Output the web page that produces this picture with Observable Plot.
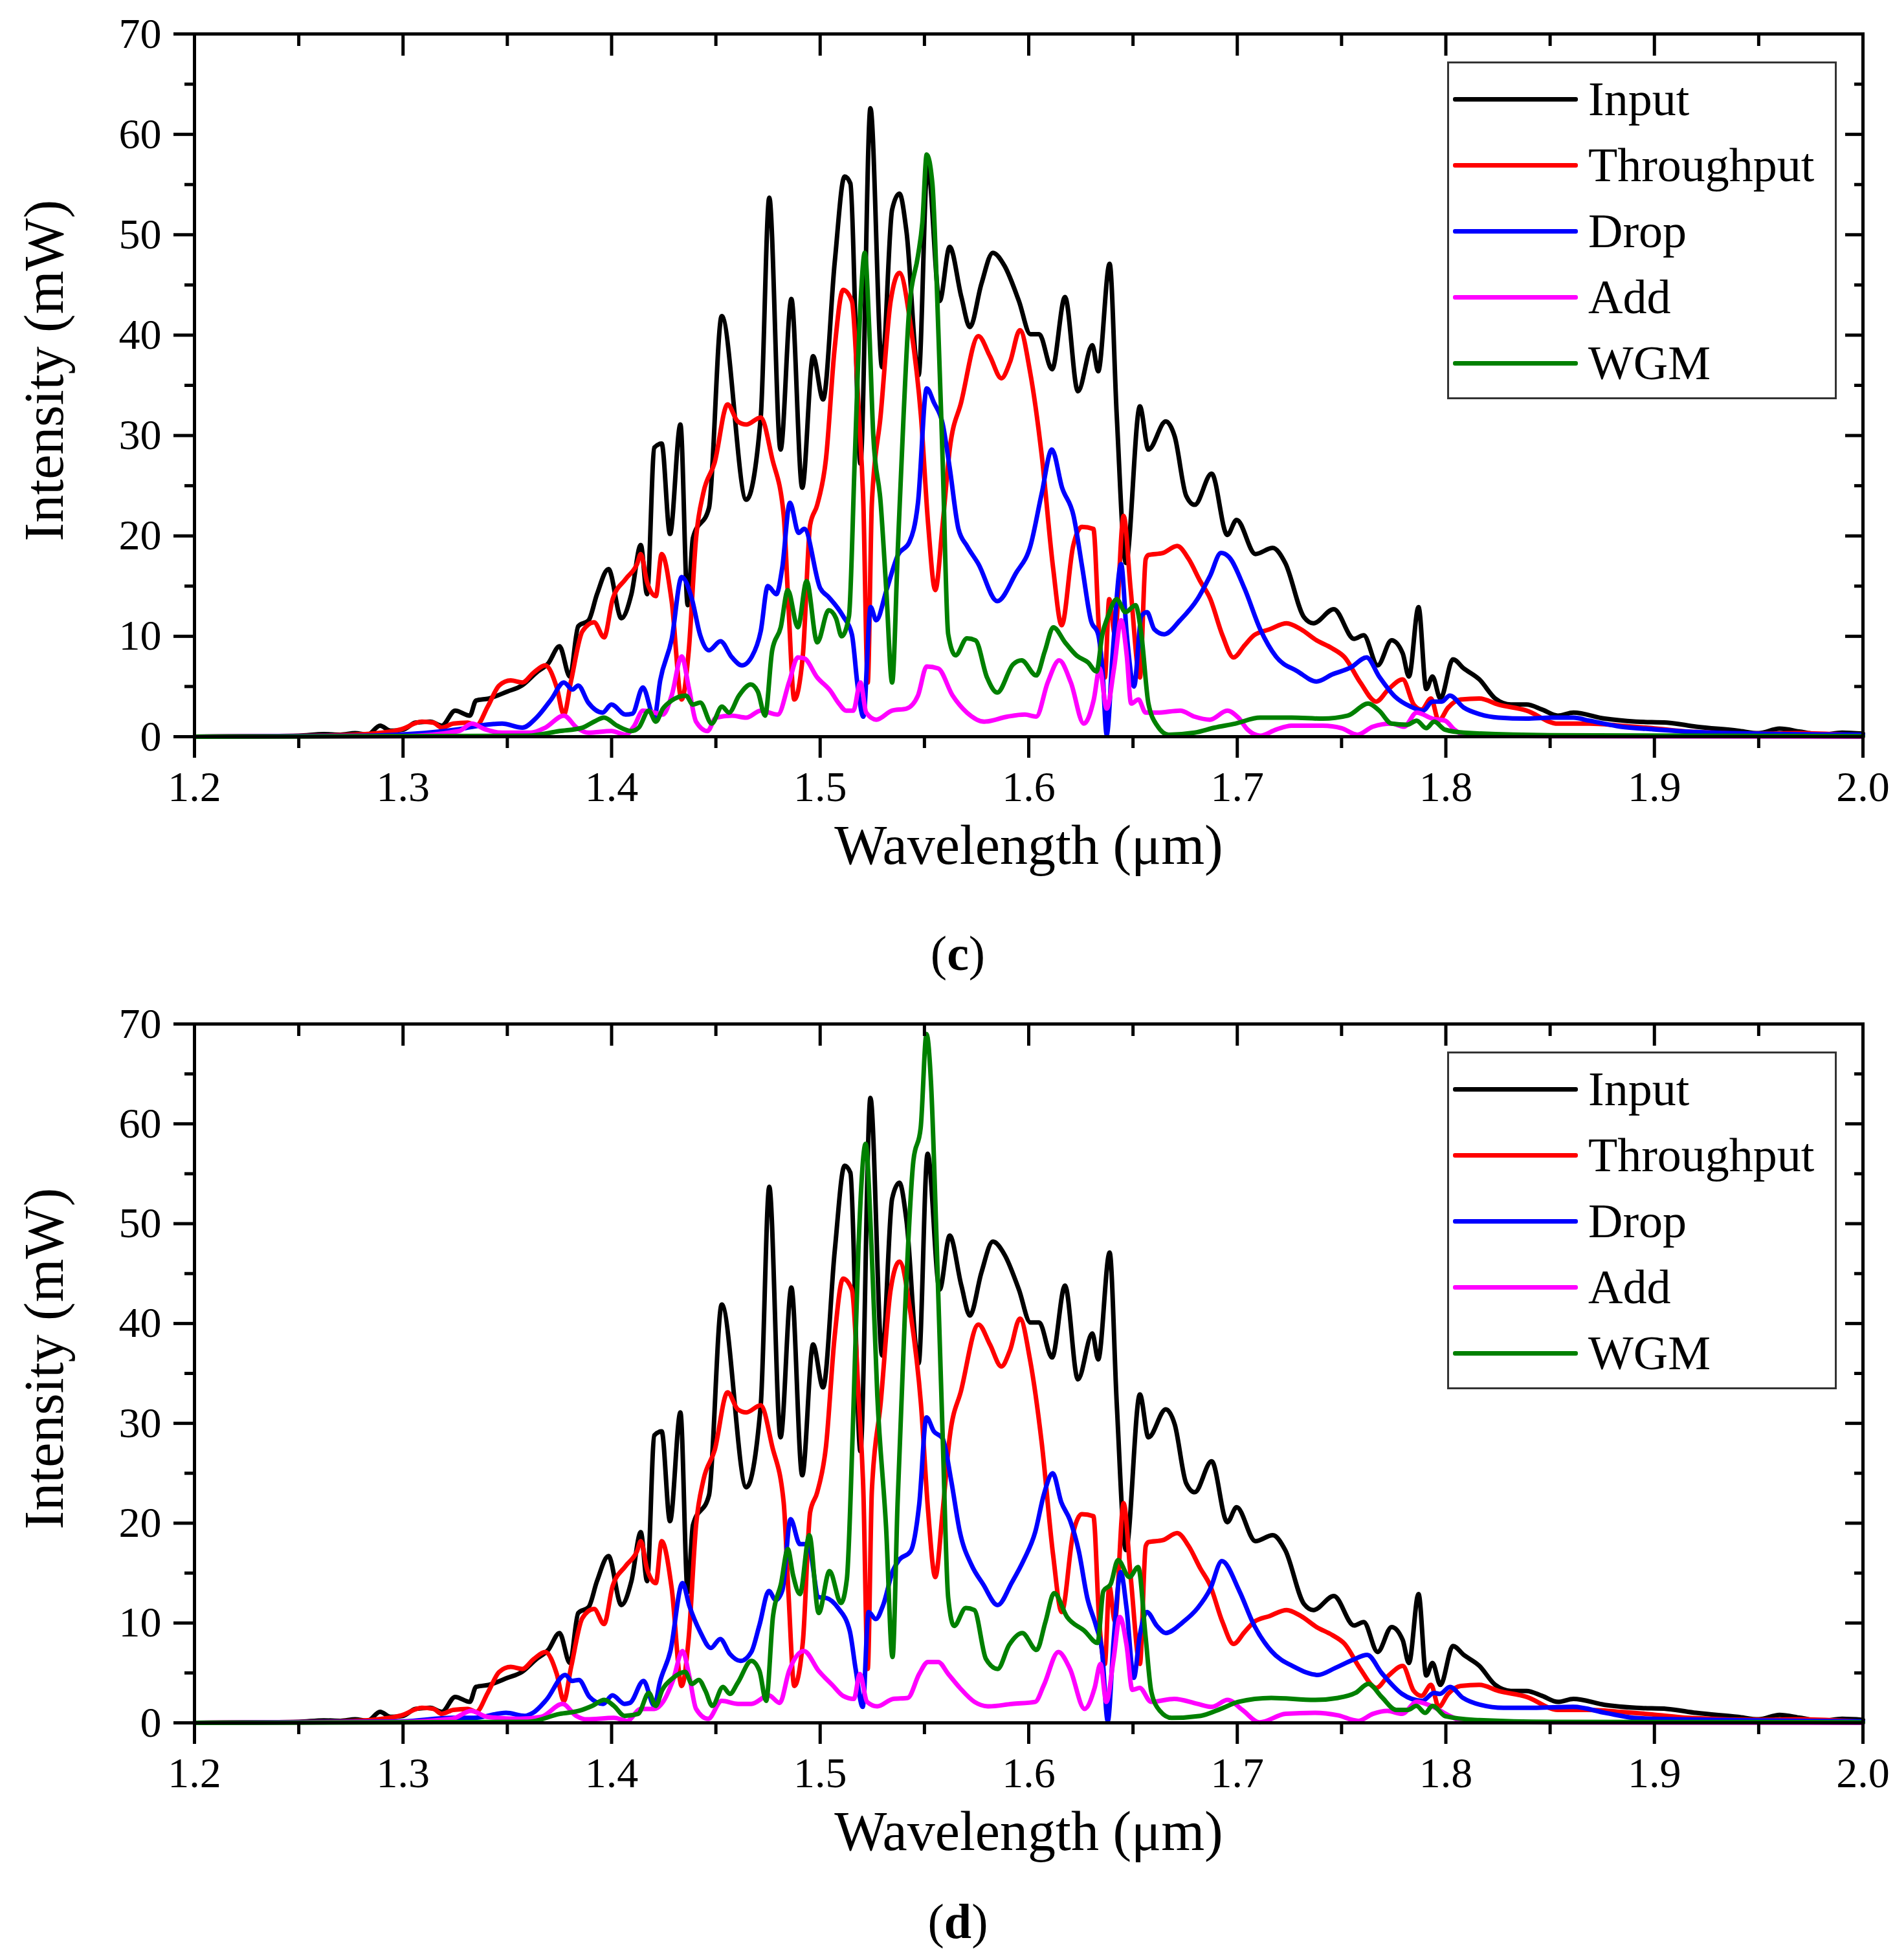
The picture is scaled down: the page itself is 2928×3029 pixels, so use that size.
<!DOCTYPE html>
<html>
<head>
<meta charset="utf-8">
<script src="https://cdn.jsdelivr.net/npm/d3@7"></script>
<script src="https://cdn.jsdelivr.net/npm/@observablehq/plot@0.6"></script>
<style>
  body { margin: 0; background: #fff; }
  #page { position: relative; width: 2928px; height: 3029px; font-family: "Liberation Serif", serif; color: #000; }
  .panel { position: absolute; left: 0; }
  .legend { position: absolute; left: 2236px; width: 602px; height: 522px; box-sizing: border-box;
            border: 3px solid #333; background: #fff; padding-top: 4px; }
  .legend .row { height: 102px; display: flex; align-items: center; }
  .legend .swatch { margin-left: 6px; width: 193px; height: 7px; border-radius: 3px; }
  .legend .name { margin-left: 16px; font-size: 74px; line-height: 1; }
  .caption { position: absolute; left: 0; width: 2960px; text-align: center; font-size: 76px; line-height: 1; }
</style>
</head>
<body>
<div id="page">
  <div class="panel" id="chartC" style="top:0px"></div>
  <div class="legend" id="legendC" style="top:95px"></div>
  <div class="caption" style="top:1435px">(<b>c</b>)</div>
  <div class="panel" id="chartD" style="top:1530px"></div>
  <div class="legend" id="legendD" style="top:1625px"></div>
  <div class="caption" style="top:2931px">(<b>d</b>)</div>
</div>
<script>
// tick values
const xMajor = [1.2, 1.3, 1.4, 1.5, 1.6, 1.7, 1.8, 1.9, 2.0];
const xMinor = [1.25, 1.35, 1.45, 1.55, 1.65, 1.75, 1.85, 1.95];
const yMajor = [0, 10, 20, 30, 40, 50, 60, 70];
const yMinor = [5, 15, 25, 35, 45, 55, 65];

const names = ["Input", "Throughput", "Drop", "Add", "WGM"];
const colors = ["#000000", "#ff0000", "#0000ff", "#ff00ff", "#008000"];

// [wavelength (um), intensity (mW)] -- same in (c) and (d)
const input = [[1.2,0],[1.23,0.05],[1.25,0.1],[1.262,0.25],[1.27,0.2],[1.277,0.35],[1.283,0.2],[1.289,1.1],[1.294,0.6],[1.3,0.7],[1.306,1.4],[1.313,1.5],[1.3186,1.1],[1.325,2.6],[1.332,2.1],[1.335,3.6],[1.341,3.8],[1.35,4.5],[1.357,5.1],[1.364,6.4],[1.3696,7.3],[1.375,9.0],[1.38,6.0],[1.384,11.0],[1.389,11.6],[1.393,14.2],[1.3985,16.7],[1.4047,11.8],[1.4095,14.2],[1.414,19.1],[1.417,14.2],[1.4205,28.8],[1.424,29.2],[1.428,20.2],[1.433,31.1],[1.4365,13.1],[1.439,19.8],[1.4467,22.8],[1.4528,41.9],[1.4646,23.6],[1.4715,31.8],[1.4756,53.7],[1.481,28.6],[1.4862,43.6],[1.4914,24.8],[1.4966,37.9],[1.5014,33.6],[1.507,47.3],[1.5117,55.8],[1.5145,55.1],[1.5193,27.2],[1.5241,62.6],[1.5297,36.8],[1.5345,52.5],[1.538,54.1],[1.5414,50.3],[1.5472,36.0],[1.5515,57.0],[1.5573,43.4],[1.5621,48.8],[1.5677,43.8],[1.5718,40.8],[1.5773,45.1],[1.5828,48.2],[1.5884,46.9],[1.5953,43.4],[1.6008,40.1],[1.605,40.1],[1.6112,36.6],[1.6174,43.8],[1.6236,34.4],[1.6305,39.0],[1.6333,36.4],[1.6388,47.1],[1.6422,32.0],[1.6466,17.3],[1.6533,32.9],[1.6574,28.6],[1.6657,31.4],[1.67,29.9],[1.6755,24.0],[1.6796,23.1],[1.6877,26.2],[1.6952,20.1],[1.6997,21.6],[1.7087,18.2],[1.717,18.8],[1.723,17.3],[1.732,11.9],[1.7365,11.3],[1.7463,12.7],[1.756,9.75],[1.7606,10.1],[1.7673,7.1],[1.774,9.6],[1.7793,8.3],[1.7823,6.0],[1.7869,12.9],[1.7906,4.75],[1.7936,6.0],[1.7974,3.8],[1.8034,7.7],[1.8086,6.8],[1.8161,5.7],[1.8237,3.8],[1.8312,3.2],[1.8387,3.2],[1.8462,2.7],[1.8537,2.1],[1.8612,2.4],[1.8762,1.8],[1.8913,1.5],[1.906,1.4],[1.92,1.0],[1.94,0.6],[1.95,0.35],[1.96,0.8],[1.97,0.5],[1.98,0.2],[1.99,0.4],[2.0,0.3]];

const throughput = [[1.2,0],[1.26,0.1],[1.285,0.3],[1.2993,0.75],[1.309,1.5],[1.3145,1.4],[1.3186,0.9],[1.3241,1.3],[1.331,1.4],[1.3351,1.1],[1.3406,3.0],[1.3461,5.1],[1.3516,5.6],[1.3572,5.4],[1.3627,6.4],[1.3682,7.1],[1.3737,4.9],[1.3771,2.2],[1.3806,5.6],[1.386,10.5],[1.3916,11.4],[1.3964,9.9],[1.4005,13.7],[1.4067,15.7],[1.4122,17.2],[1.414,18.2],[1.417,15.4],[1.4212,14.0],[1.424,18.2],[1.4288,13.5],[1.4336,3.7],[1.437,8.6],[1.4405,19.8],[1.444,24.3],[1.4494,27.3],[1.4556,33.1],[1.4605,31.4],[1.4646,31.1],[1.4715,31.8],[1.477,27.7],[1.4825,22.1],[1.4848,13.0],[1.4876,3.7],[1.4917,8.1],[1.4952,21.1],[1.4986,23.1],[1.5028,27.7],[1.5069,38.6],[1.511,44.5],[1.5152,43.4],[1.5186,32.0],[1.5207,23.3],[1.5228,5.4],[1.5248,23.3],[1.529,32.0],[1.5338,43.4],[1.538,46.2],[1.5435,40.8],[1.5483,32.0],[1.5518,21.1],[1.5552,14.6],[1.5587,21.1],[1.5621,28.6],[1.5676,33.3],[1.5759,39.9],[1.5814,37.9],[1.5869,35.7],[1.591,37.3],[1.5958,40.5],[1.6006,36.4],[1.6062,28.1],[1.6117,16.8],[1.6158,11.1],[1.6213,19.0],[1.6255,20.9],[1.631,20.7],[1.6338,10.2],[1.6365,5.9],[1.6386,13.7],[1.6413,10.2],[1.6455,22.0],[1.6489,14.6],[1.6533,5.9],[1.6561,17.7],[1.6574,18.1],[1.6643,18.3],[1.6712,19.0],[1.6767,17.7],[1.6822,15.5],[1.6869,13.8],[1.6929,10.1],[1.6982,7.9],[1.7035,9.1],[1.708,10.1],[1.7155,10.7],[1.7237,11.3],[1.7305,10.7],[1.738,9.6],[1.7455,8.8],[1.7515,7.9],[1.759,5.4],[1.7666,3.5],[1.7726,4.75],[1.7793,5.7],[1.7846,3.2],[1.7884,2.7],[1.7929,3.8],[1.7966,1.6],[1.8011,2.9],[1.8071,3.7],[1.8161,3.8],[1.8252,3.2],[1.8387,2.6],[1.8537,1.3],[1.8687,1.3],[1.8838,1.1],[1.8988,0.85],[1.9165,0.5],[1.95,0.3],[1.97,0.35],[2.0,0.1]];

// panel (c)
const dropC = [[1.2,0],[1.28,0.1],[1.3268,0.75],[1.3365,1.1],[1.3475,1.3],[1.3572,0.9],[1.364,1.9],[1.371,3.7],[1.3771,5.4],[1.3813,4.7],[1.384,5.1],[1.3888,3.4],[1.3957,2.4],[1.3999,3.2],[1.4067,2.2],[1.41,2.3],[1.415,4.9],[1.4205,1.9],[1.4233,5.6],[1.4288,9.7],[1.4336,15.9],[1.4384,13.8],[1.4425,10.1],[1.4467,8.6],[1.4522,9.5],[1.4577,7.9],[1.4625,7.1],[1.4673,8.0],[1.4715,10.5],[1.4749,15.0],[1.479,14.2],[1.4818,16.8],[1.4855,23.3],[1.4897,20.3],[1.4924,20.7],[1.5,14.8],[1.5041,13.9],[1.511,12.0],[1.5152,10.2],[1.518,5.0],[1.5207,2.0],[1.5242,12.9],[1.5269,11.6],[1.5318,14.6],[1.5373,18.1],[1.5428,19.4],[1.5469,23.3],[1.5511,34.7],[1.5545,33.3],[1.5587,31.2],[1.5621,26.8],[1.5663,20.7],[1.5704,19.0],[1.5759,17.2],[1.5849,13.5],[1.5939,16.3],[1.6008,19.0],[1.6062,24.2],[1.6111,28.6],[1.616,24.8],[1.6215,22.0],[1.6257,16.8],[1.6298,11.6],[1.6333,10.2],[1.6353,6.8],[1.6374,0.2],[1.6402,8.1],[1.6443,17.2],[1.647,10.2],[1.6505,5.0],[1.654,12.0],[1.6567,12.4],[1.6602,10.7],[1.665,10.2],[1.6726,11.6],[1.6809,13.7],[1.6869,16.0],[1.6922,18.3],[1.696,17.9],[1.7035,14.75],[1.711,10.7],[1.7185,8.0],[1.729,6.5],[1.738,5.5],[1.7455,6.2],[1.7545,6.9],[1.762,7.9],[1.768,6.0],[1.7756,4.0],[1.7831,3.0],[1.7891,2.6],[1.7936,3.5],[1.7981,3.5],[1.8019,4.1],[1.8086,2.9],[1.8161,2.25],[1.8252,1.9],[1.8387,1.8],[1.8507,1.9],[1.8612,1.9],[1.8687,1.6],[1.8838,1.0],[1.8988,0.75],[1.9165,0.5],[1.95,0.3],[2.0,0.2]];

const addC = [[1.2,0],[1.3,0.05],[1.3268,0.56],[1.333,1.3],[1.3392,0.75],[1.3475,0.4],[1.3613,0.4],[1.3682,0.9],[1.3771,2.1],[1.3833,0.9],[1.3888,0.4],[1.3999,0.56],[1.4067,0.2],[1.4109,1.1],[1.415,2.6],[1.4205,2.4],[1.4246,2.2],[1.4288,4.1],[1.4336,8.0],[1.437,4.9],[1.4405,1.5],[1.446,0.56],[1.45,1.9],[1.4577,2.1],[1.4646,1.9],[1.4715,2.6],[1.4797,2.2],[1.4852,5.5],[1.4893,7.9],[1.4924,7.8],[1.4986,5.9],[1.5048,4.6],[1.509,3.3],[1.5124,2.6],[1.5159,2.6],[1.5193,5.4],[1.5221,2.4],[1.5269,1.7],[1.5345,2.6],[1.5414,2.8],[1.5469,4.1],[1.5511,7.0],[1.5566,6.8],[1.5635,4.1],[1.5704,2.4],[1.5787,1.5],[1.5898,2.0],[1.5981,2.2],[1.6036,2.0],[1.6091,5.4],[1.6146,7.6],[1.6202,5.4],[1.6264,1.3],[1.6312,3.7],[1.634,6.8],[1.6374,2.8],[1.6409,6.8],[1.6443,11.6],[1.647,8.1],[1.6491,3.3],[1.6526,3.7],[1.6561,2.4],[1.6616,2.4],[1.6726,2.6],[1.6795,2.0],[1.6869,1.7],[1.6952,2.6],[1.7005,1.9],[1.705,0.7],[1.711,0.1],[1.7185,0.7],[1.726,1.1],[1.741,1.1],[1.75,0.85],[1.7576,0.2],[1.765,1.0],[1.774,1.3],[1.78,1.0],[1.786,2.4],[1.7936,1.8],[1.7996,1.6],[1.8041,0.7],[1.8101,0.1],[1.85,0.05],[2.0,0]];

const wgmC = [[1.2,0],[1.36,0.1],[1.375,0.56],[1.386,0.9],[1.3916,1.5],[1.3964,1.9],[1.4026,1.1],[1.4095,0.56],[1.413,0.9],[1.4178,2.6],[1.4212,1.5],[1.4246,2.8],[1.4288,3.6],[1.4356,4.1],[1.439,3.2],[1.4425,3.4],[1.448,1.3],[1.4529,3.0],[1.4563,2.4],[1.4611,4.1],[1.4667,5.2],[1.4701,4.5],[1.4736,2.1],[1.477,8.6],[1.4811,10.9],[1.4845,14.6],[1.4893,10.9],[1.4935,15.5],[1.4986,9.4],[1.5041,12.6],[1.5076,11.8],[1.5103,10.0],[1.5138,12.0],[1.5166,27.7],[1.5193,42.9],[1.5214,48.2],[1.5235,40.8],[1.5255,29.9],[1.529,23.3],[1.5317,14.6],[1.5345,5.4],[1.5373,19.0],[1.54,32.0],[1.5428,42.9],[1.5469,47.9],[1.549,51.2],[1.5511,58.0],[1.5538,55.1],[1.5559,45.1],[1.5587,27.7],[1.5614,10.2],[1.5649,8.1],[1.5704,9.8],[1.5745,9.6],[1.58,5.9],[1.5849,4.4],[1.5925,7.2],[1.5966,7.6],[1.6036,6.1],[1.6077,8.5],[1.6118,10.9],[1.6174,9.4],[1.6229,8.1],[1.6284,7.4],[1.6325,6.5],[1.6353,10.2],[1.638,12.0],[1.6422,13.7],[1.6464,12.4],[1.6512,13.1],[1.654,10.2],[1.6574,3.3],[1.6616,1.1],[1.6671,0.2],[1.6795,0.4],[1.6891,0.9],[1.699,1.3],[1.711,1.9],[1.726,1.9],[1.741,1.8],[1.753,2.1],[1.7628,3.3],[1.768,2.6],[1.774,1.3],[1.7816,1.2],[1.786,1.6],[1.7906,0.85],[1.7944,1.5],[1.7996,0.7],[1.8086,0.4],[1.85,0.15],[2.0,0.05]];

// panel (d)
const dropD = [[1.2,0],[1.3,0.15],[1.3235,0.5],[1.334,0.5],[1.3494,1.0],[1.3584,0.7],[1.3623,1.0],[1.3687,2.3],[1.3778,4.8],[1.381,4.2],[1.3843,4.3],[1.3894,2.6],[1.3959,1.9],[1.4004,2.75],[1.4062,1.9],[1.4088,2.0],[1.4153,4.2],[1.4205,1.7],[1.4231,4.05],[1.4282,7.2],[1.434,14.0],[1.4373,11.7],[1.4425,9.1],[1.4476,7.5],[1.4521,8.4],[1.4567,6.9],[1.4618,6.2],[1.467,7.1],[1.4709,9.8],[1.4754,13.2],[1.4787,12.3],[1.4819,13.3],[1.4858,20.4],[1.4903,17.9],[1.4942,17.9],[1.4993,12.6],[1.503,12.5],[1.5086,11.5],[1.5142,9.2],[1.517,5.4],[1.5204,1.6],[1.5232,11.1],[1.5267,10.4],[1.5302,11.8],[1.535,15.3],[1.5378,16.3],[1.5434,17.2],[1.5475,21.9],[1.551,30.6],[1.5545,29.2],[1.5587,28.5],[1.5628,24.3],[1.567,19.1],[1.5726,15.8],[1.5781,13.9],[1.5851,11.8],[1.592,14.1],[1.5976,16.3],[1.6031,19.1],[1.6073,22.9],[1.6115,25.0],[1.6156,22.1],[1.6198,20.3],[1.624,17.2],[1.6281,12.5],[1.6323,9.7],[1.6351,7.3],[1.6379,0.2],[1.6407,8.2],[1.6441,15.1],[1.6469,11.5],[1.6504,4.5],[1.6532,8.7],[1.6566,11.1],[1.6615,9.7],[1.6657,9.0],[1.674,10.1],[1.681,11.5],[1.687,13.4],[1.6926,16.2],[1.701,13.2],[1.708,9.8],[1.7163,7.2],[1.7274,5.6],[1.7386,4.8],[1.747,5.5],[1.7553,6.3],[1.7623,6.8],[1.7692,5.0],[1.779,2.9],[1.7887,2.2],[1.7943,3.0],[1.7971,2.9],[1.802,3.6],[1.8082,2.5],[1.8166,1.8],[1.8277,1.5],[1.8416,1.5],[1.8611,1.6],[1.8765,1.0],[1.89,0.5],[1.9,0.4],[1.95,0.25],[2.0,0.15]];

const addD = [[1.2,0],[1.3,0.1],[1.3235,0.4],[1.3326,1.2],[1.3403,0.6],[1.3558,0.4],[1.3662,0.6],[1.3765,1.9],[1.383,0.7],[1.3881,0.35],[1.4011,0.5],[1.4075,0.2],[1.414,1.4],[1.4205,1.4],[1.4243,2.0],[1.4295,4.3],[1.434,7.2],[1.4373,4.6],[1.4405,1.4],[1.4463,0.4],[1.4528,2.2],[1.4606,1.9],[1.467,1.9],[1.4754,2.75],[1.4806,2.0],[1.4851,5.2],[1.4922,7.2],[1.4993,5.2],[1.5058,3.8],[1.511,2.7],[1.5162,2.4],[1.519,4.9],[1.5225,2.1],[1.5274,1.65],[1.535,2.4],[1.542,2.5],[1.5475,4.9],[1.5517,6.1],[1.5566,6.1],[1.5614,4.9],[1.567,3.5],[1.574,2.1],[1.5809,1.65],[1.592,1.9],[1.6031,2.1],[1.6073,3.8],[1.6142,7.1],[1.6198,5.4],[1.6268,1.4],[1.6316,3.5],[1.6344,5.9],[1.6372,2.1],[1.6407,6.4],[1.6437,10.6],[1.6469,7.8],[1.6497,3.3],[1.6532,3.5],[1.6587,2.1],[1.6698,2.4],[1.6809,1.9],[1.6879,1.6],[1.6954,2.3],[1.7024,1.3],[1.7107,0.05],[1.7232,0.9],[1.7372,1.0],[1.7483,0.75],[1.758,0.2],[1.765,0.9],[1.772,1.2],[1.779,0.9],[1.786,2.1],[1.7929,1.7],[1.8013,0.75],[1.8096,0.1],[1.85,0.05],[2.0,0]];

const wgmD = [[1.2,0],[1.36,0.1],[1.3752,0.9],[1.3843,1.2],[1.3907,1.7],[1.3965,2.3],[1.4011,1.7],[1.4062,0.7],[1.4127,0.9],[1.4179,3.0],[1.4211,1.7],[1.4243,3.3],[1.4295,4.5],[1.4353,5.1],[1.4385,3.9],[1.4418,4.3],[1.445,3.2],[1.4483,1.7],[1.4534,3.6],[1.4567,2.9],[1.4606,4.05],[1.467,6.2],[1.4709,5.2],[1.4741,2.2],[1.4774,10.7],[1.4812,13.9],[1.4845,17.4],[1.487,14.8],[1.4903,12.9],[1.4948,18.8],[1.4993,11.0],[1.5045,15.2],[1.51,12.0],[1.5128,14.4],[1.5156,29.0],[1.5184,47.8],[1.5218,58.0],[1.5246,47.8],[1.5274,32.8],[1.5316,19.6],[1.5347,6.6],[1.5371,21.9],[1.5406,40.8],[1.5447,56.3],[1.5482,59.6],[1.551,69.0],[1.5531,64.3],[1.5559,47.8],[1.5587,29.0],[1.5614,12.5],[1.5642,9.7],[1.5698,11.5],[1.5739,11.3],[1.5795,6.4],[1.5851,5.4],[1.5906,7.8],[1.5969,9.0],[1.6038,7.3],[1.608,10.1],[1.6122,13.0],[1.6184,10.6],[1.6268,9.2],[1.633,8.0],[1.6358,13.2],[1.6393,13.9],[1.6428,16.3],[1.6483,14.6],[1.6525,15.6],[1.656,8.7],[1.6588,3.1],[1.6629,1.2],[1.6685,0.5],[1.6824,0.7],[1.6921,1.4],[1.7004,2.1],[1.7163,2.5],[1.7372,2.3],[1.7483,2.5],[1.7567,3.0],[1.7629,3.9],[1.7692,2.6],[1.7762,1.3],[1.7818,1.3],[1.7859,1.7],[1.7901,1.0],[1.7936,1.7],[1.7999,0.65],[1.8138,0.3],[1.85,0.1],[2.0,0.05]];

function panel(drop, add, wgm, marginBottom) {
  const sets = [input, throughput, drop, add, wgm];
  const rows = sets.flatMap((pts, i) => pts.map(([w, v]) => ({series: names[i], w, v})));
  return Plot.plot({
    width: 2928,
    height: 1420,
    marginTop: 52,
    marginLeft: 300,
    marginRight: 50,
    marginBottom: marginBottom,
    style: {fontFamily: "Liberation Serif", fontSize: "66px", color: "black", background: "white"},
    x: {domain: [1.2, 2.0]},
    y: {domain: [0, 70]},
    color: {domain: names, range: colors},
    marks: [
      Plot.line(rows, {x: "w", y: "v", z: "series", stroke: "series", strokeWidth: 7, curve: "monotone-x"}),
      Plot.frame({stroke: "black", strokeWidth: 5}),
      // bottom + left: outward ticks with labels
      Plot.axisX(xMajor, {anchor: "bottom", tickSize: 33, tickPadding: 20, strokeWidth: 5, tickFormat: d3.format(".1f"), label: null}),
      Plot.axisX(xMinor, {anchor: "bottom", tickSize: 18, strokeWidth: 5, tickFormat: () => "", label: null}),
      Plot.axisY(yMajor, {anchor: "left", tickSize: 32, tickPadding: 19, strokeWidth: 5, label: null}),
      Plot.axisY(yMinor, {anchor: "left", tickSize: 15, strokeWidth: 5, tickFormat: () => "", label: null}),
      // top + right: inward ticks
      Plot.axisX(xMajor, {anchor: "top", tickSize: -33, strokeWidth: 5, tickFormat: () => "", label: null}),
      Plot.axisX(xMinor, {anchor: "top", tickSize: -18, strokeWidth: 5, tickFormat: () => "", label: null}),
      Plot.axisY(yMajor, {anchor: "right", tickSize: -28, strokeWidth: 5, tickFormat: () => "", label: null}),
      Plot.axisY(yMinor, {anchor: "right", tickSize: -14, strokeWidth: 5, tickFormat: () => "", label: null}),
      Plot.text(["Wavelength (μm)"], {text: d => d, frameAnchor: "bottom", textAnchor: "middle", lineAnchor: "bottom", dy: 196, fontSize: 86}),
      Plot.text(["Intensity (mW)"], {text: d => d, frameAnchor: "left", textAnchor: "middle", lineAnchor: "bottom", rotate: -90, dx: -204, dy: -23, fontSize: 86})
    ]
  });
}

function legend(el) {
  names.forEach((n, i) => {
    const row = document.createElement("div");
    row.className = "row";
    row.innerHTML = `<div class="swatch" style="background:${colors[i]}"></div><div class="name">${n}</div>`;
    el.appendChild(row);
  });
}

document.getElementById("chartC").append(panel(dropC, addC, wgmC, 282));
document.getElementById("chartD").append(panel(dropD, addD, wgmD, 288));
legend(document.getElementById("legendC"));
legend(document.getElementById("legendD"));
</script>
</body>
</html>
